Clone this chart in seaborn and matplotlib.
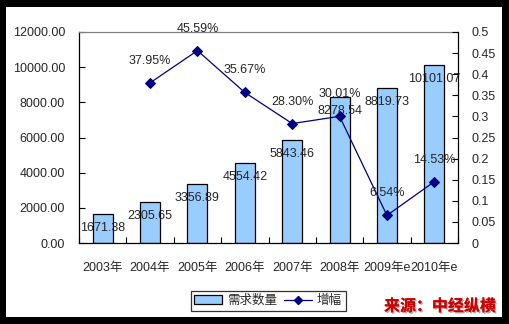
import numpy as np
import matplotlib
matplotlib.use("Agg")
import matplotlib.pyplot as plt
import matplotlib.patheffects as pe
from matplotlib.patches import Rectangle
from matplotlib.lines import Line2D
from matplotlib.ticker import FuncFormatter, FixedLocator
import seaborn as sns

years = ["2003年", "2004年", "2005年", "2006年", "2007年", "2008年", "2009年e", "2010年e"]
demand = [1671.38, 2305.65, 3356.89, 4554.42, 5843.46, 8278.54, 8819.73, 10101.07]
growth_pct = [None, 37.95, 45.59, 35.67, 28.30, 30.01, 6.54, 14.53]

sns.set_style("white")
plt.rcParams["font.family"] = ["Liberation Sans", "Noto Sans CJK SC", "DejaVu Sans"]

W, H = 509, 324
fig = plt.figure(figsize=(W / 100, H / 100), dpi=100, facecolor="black")
fig.patches.append(Rectangle((6 / W, 1 - 317 / H), 496 / W, 310 / H,
                             transform=fig.transFigure, facecolor="white",
                             edgecolor="none", zorder=-10))

ax = fig.add_axes([79 / W, 1 - 243 / H, 379 / W, 211 / H])
ax.set_facecolor("none")

x = np.arange(len(years))
sns.barplot(x=x, y=demand, ax=ax, color="#99CCFF", width=0.42,
            edgecolor="black", linewidth=0.9, saturation=1, native_scale=True)
ax.set_xlim(-0.5, len(years) - 0.5)
ax.set_ylim(0, 12000)
ax.set_yticks(np.arange(0, 12001, 2000))
ax.yaxis.set_major_formatter(FuncFormatter(lambda v, p: f"{v:.2f}"))
ax.set_xticks(x)
ax.set_xticklabels(years)
ax.xaxis.set_minor_locator(FixedLocator(np.arange(-0.5, len(years), 1.0)))
ax.tick_params(axis="x", which="major", length=0, pad=14, labelsize=9)
ax.tick_params(axis="x", which="minor", direction="in", length=4, width=0.8, color="black", bottom=True)
ax.tick_params(axis="y", direction="in", length=4, width=0.8, color="black", pad=10, labelsize=9, left=True)
for s in ["left", "bottom"]:
    ax.spines[s].set_color("black")
    ax.spines[s].set_linewidth(0.9)
ax.spines["top"].set_color("#808080")
ax.spines["top"].set_linewidth(0.9)
ax.spines["right"].set_visible(False)

for xi, v in zip(x, demand):
    ax.annotate(f"{v:.2f}", (xi, v), xytext=(0, -14), textcoords="offset pixels",
                ha="center", va="center", fontsize=9, zorder=5)

ax2 = ax.twinx()
gx = [xi for xi, g in zip(x, growth_pct) if g is not None]
gy = [g / 100 for g in growth_pct if g is not None]
sns.lineplot(x=gx, y=gy, ax=ax2, color="#000080", marker="D", markersize=5,
             markeredgecolor="#000080", linewidth=0.9)
ax2.set_ylim(0, 0.5)
ax2.set_yticks(np.arange(0, 0.501, 0.05))
ax2.yaxis.set_major_formatter(FuncFormatter(lambda v, p: f"{round(v, 2):g}"))
ax2.tick_params(axis="y", direction="in", length=4, width=0.8, color="black", pad=10, labelsize=9, right=True)
for s in ["left", "top", "bottom"]:
    ax2.spines[s].set_visible(False)
ax2.spines["right"].set_color("black")
ax2.spines["right"].set_linewidth(0.9)

for xi, g in zip(gx, [g for g in growth_pct if g is not None]):
    ax2.annotate(f"{g:.2f}%", (xi, g / 100), xytext=(0, 22), textcoords="offset pixels",
                 ha="center", va="center", fontsize=9)

handles = [Rectangle((0, 0), 1, 1, facecolor="#99CCFF", edgecolor="black", linewidth=0.9),
           Line2D([], [], color="#000080", marker="D", markersize=4, linewidth=0.9)]
leg = fig.legend(handles, ["需求数量", "增幅"], loc="center", bbox_to_anchor=(268 / W, 1 - 301 / H),
                 ncol=2, frameon=True, fancybox=False, fontsize=9, handlelength=2.2,
                 handletextpad=0.4, columnspacing=0.6, borderpad=0.3)
leg.get_frame().set_edgecolor("black")
leg.get_frame().set_linewidth(0.9)

fig.text(440 / W, 1 - 306 / H, "来源：中经纵横", ha="center", va="center",
         fontsize=11.5, fontweight="bold", color="#CC0000",
         family=["Noto Sans CJK SC"],
         path_effects=[pe.withSimplePatchShadow(offset=(1, -1), shadow_rgbFace="#999999", alpha=0.8),
                       pe.Normal()])

fig.savefig("out.png", dpi=100, facecolor="black")
